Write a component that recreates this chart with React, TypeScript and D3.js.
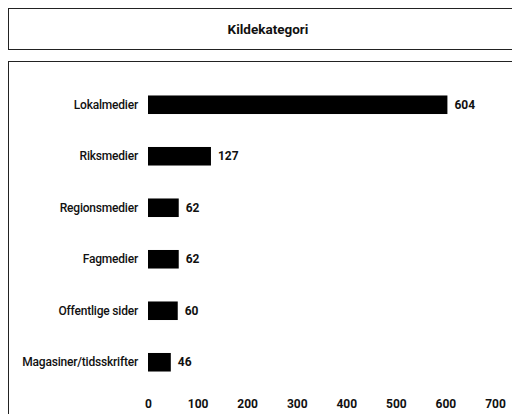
import { useEffect, useRef } from "react";
import * as d3 from "d3";

const categories = [
  "Lokalmedier",
  "Riksmedier",
  "Regionsmedier",
  "Fagmedier",
  "Offentlige sider",
  "Magasiner/tidsskrifter",
];
const counts = [604, 127, 62, 62, 60, 46];
const xTicks = [0, 100, 200, 300, 400, 500, 600, 700];
const title = "Kildekategori";

export default function App() {
  const ref = useRef<SVGSVGElement>(null);

  useEffect(() => {
    if (!ref.current) return;
    const w = 512;
    const h = 414;
    const m = { top: 79, right: 17, bottom: 26, left: 148 };
    const font = "Roboto, 'Noto Sans', sans-serif";

    const svg = d3.select(ref.current);
    svg.selectAll("*").remove();
    svg.attr("width", w).attr("height", h).attr("viewBox", `0 0 ${w} ${h}`);

    svg.append("rect").attr("width", w).attr("height", h).attr("fill", "#fff");

    // title panel + chart panel frames
    svg.append("rect").attr("x", 8.5).attr("y", 8.5).attr("width", 520).attr("height", 41)
      .attr("fill", "none").attr("stroke", "#222").attr("stroke-width", 1);
    svg.append("text").attr("x", 268).attr("y", 34).attr("text-anchor", "middle")
      .attr("font-family", font).attr("font-size", 13.5).attr("font-weight", 700).attr("fill", "#111")
      .text(title);
    svg.append("rect").attr("x", 8.5).attr("y", 61.5).attr("width", 520).attr("height", 380)
      .attr("fill", "none").attr("stroke", "#222").attr("stroke-width", 1);

    const data = categories.map((c, i) => ({ cat: c, n: counts[i] }));

    const x = d3.scaleLinear().domain([0, 700]).range([m.left, w - m.right]);
    const y = d3.scaleBand().domain(categories).range([m.top, h - m.bottom]).paddingInner(0.64).paddingOuter(0.32);

    svg.selectAll(".bar")
      .data(data)
      .join("rect")
      .attr("class", "bar")
      .attr("x", x(0))
      .attr("y", (d) => y(d.cat)!)
      .attr("width", (d) => x(d.n) - x(0))
      .attr("height", y.bandwidth())
      .attr("fill", "#000");

    svg.selectAll(".val")
      .data(data)
      .join("text")
      .attr("class", "val")
      .attr("x", (d) => x(d.n) + 7)
      .attr("y", (d) => y(d.cat)! + y.bandwidth() / 2)
      .attr("dy", "0.35em")
      .attr("font-family", font)
      .attr("font-size", 12)
      .attr("font-weight", 700)
      .attr("fill", "#111")
      .text((d) => d.n);

    svg.selectAll(".lab")
      .data(data)
      .join("text")
      .attr("class", "lab")
      .attr("x", m.left - 10)
      .attr("y", (d) => y(d.cat)! + y.bandwidth() / 2)
      .attr("dy", "0.35em")
      .attr("text-anchor", "end")
      .attr("font-family", font)
      .attr("font-size", 12)
      .attr("font-weight", 500)
      .attr("letter-spacing", -0.2)
      .attr("fill", "#111")
      .text((d) => d.cat);

    const ax = svg.append("g").attr("transform", `translate(0,${h - 10})`)
      .call(d3.axisBottom(x).tickValues(xTicks).tickSize(0).tickPadding(0));
    ax.select(".domain").remove();
    ax.selectAll("text").attr("font-family", font).attr("font-size", 12).attr("font-weight", 700)
      .attr("fill", "#111").attr("dy", "0.35em");
  }, []);

  return (
    <svg ref={ref} style={{ position: "absolute", left: 0, top: 0, display: "block" }} />
  );
}
